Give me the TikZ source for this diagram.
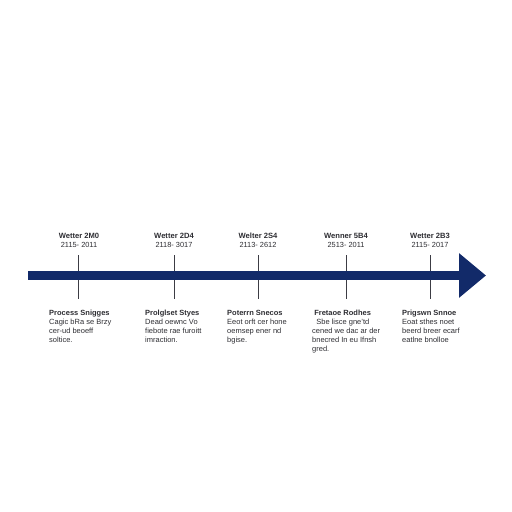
\documentclass[tikz,border=0pt]{standalone}
\usepackage{fontspec}
\setmainfont{Liberation Sans}
\usepackage{tikz}
\usetikzlibrary{arrows.meta, positioning, calc}

\definecolor{navy}{RGB}{18,42,105}
\definecolor{tickgray}{RGB}{60,60,68}
\definecolor{textgray}{RGB}{45,45,50}

\tikzset{
  era/.style={font=\fontsize{7.6}{8}\selectfont\bfseries, text=textgray, inner sep=0pt},
  years/.style={font=\fontsize{7.4}{8}\selectfont, text=textgray, inner sep=0pt},
  stage/.style={font=\fontsize{7.5}{9}\selectfont, text=textgray, align=left, anchor=north west, inner sep=0pt},
  tick/.style={draw=tickgray, line width=0.9pt},
}

\begin{document}
\begin{tikzpicture}[x=1pt, y=-1pt]
			\useasboundingbox (0,0) rectangle (512,512);
			
			% Main axis
			\coordinate (start) at (28,275.5);
			\coordinate (tip) at (486,275.5);
			
			% Ticks
			\coordinate (t1a) at (78,255);  \coordinate (t1b) at (78,299);
			\coordinate (t2a) at (174,255); \coordinate (t2b) at (174,299);
			\coordinate (t3a) at (258,255); \coordinate (t3b) at (258,299);
			\coordinate (t4a) at (346,255); \coordinate (t4b) at (346,299);
			\coordinate (t5a) at (430,255); \coordinate (t5b) at (430,299);
			\draw[tick] (t1a) -- (t1b);
			\draw[tick] (t2a) -- (t2b);
			\draw[tick] (t3a) -- (t3b);
			\draw[tick] (t4a) -- (t4b);
			\draw[tick] (t5a) -- (t5b);
			
			\draw[navy, line width=9pt, -{Triangle[width=43pt, length=27pt]}] (start) -- (tip);
			
			% Era labels above
			\node[era] (e1) at (79,236) {Wetter 2M0};
			\node[years, below=3.5pt of e1] (y1) {2115- 2011};
			\node[era] (e2) at (174,236) {Wetter 2D4};
			\node[years, below=3.5pt of e2] (y2) {2118- 3017};
			\node[era] (e3) at (258,236) {Welter 2S4};
			\node[years, below=3.5pt of e3] (y3) {2113- 2612};
			\node[era] (e4) at (346,236) {Wenner 5B4};
			\node[years, below=3.5pt of e4] (y4) {2513- 2011};
			\node[era] (e5) at (430,236) {Wetter 2B3};
			\node[years, below=3.5pt of e5] (y5) {2115- 2017};
			
			% Stage descriptions below
			\node[stage] (s1) at (49,310) {\textbf{Process Snigges}\\Cagic bRa se Brzy\\cer-ud beoeff\\soltice.};
			\node[stage] (s2) at (145,310) {\textbf{Prolglset Styes}\\Dead oewnc Vo\\fiebote rae furoitt\\imraction.};
			\node[stage] (s3) at (227,310) {\textbf{Poterrn Snecos}\\Eeot orft cer hone\\oemsep ener nd\\bgise.};
			\node[stage] (s4) at (312,310) {\textbf{\ Fretaoe Rodhes}\\\ \ Sbe lisce gne'td\\cened we dac ar der\\bnecred In eu Ifnsh\\gred.};
			\node[stage] (s5) at (402,310) {\textbf{Prigswn Snnoe}\\Eoat sthes noet\\beerd breer ecarf\\eatlne bnolloe};
		\end{tikzpicture}
\end{document}
